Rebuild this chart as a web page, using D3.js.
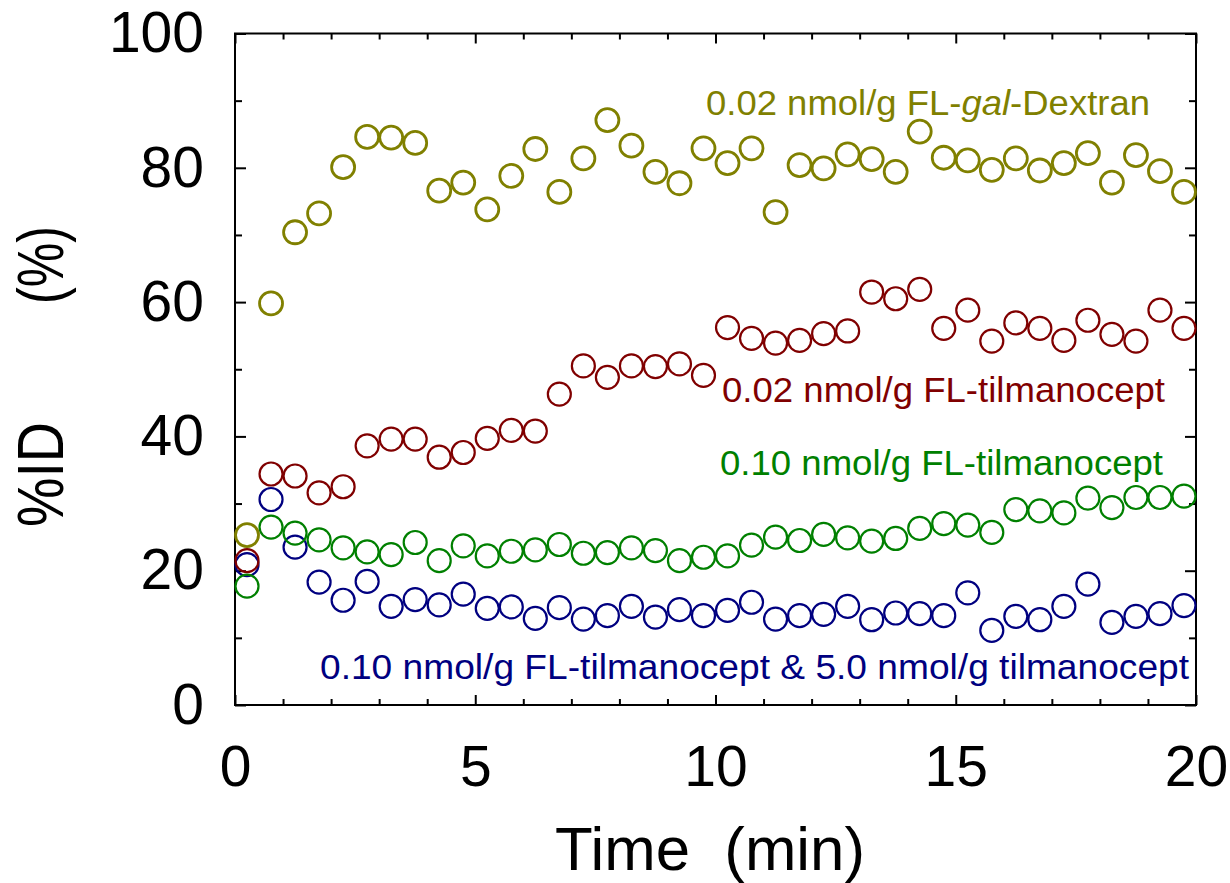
<!DOCTYPE html>
<html>
<head>
<meta charset="utf-8">
<script src="https://cdn.jsdelivr.net/npm/d3@7"></script>
<style>
  body { margin: 0; background: #fff; }
  svg { display: block; font-family: "Liberation Sans", Arial, sans-serif; }
  text { white-space: pre; }
</style>
</head>
<body>
<div id="chart"></div>
<script>
// sample times (min)
const time = [0.25, 0.75, 1.25, 1.75, 2.25, 2.75, 3.25, 3.75, 4.25, 4.75,
              5.25, 5.75, 6.25, 6.75, 7.25, 7.75, 8.25, 8.75, 9.25, 9.75,
              10.25, 10.75, 11.25, 11.75, 12.25, 12.75, 13.25, 13.75, 14.25, 14.75,
              15.25, 15.75, 16.25, 16.75, 17.25, 17.75, 18.25, 18.75, 19.25, 19.75];

// %ID per series
const galDextran = [25.3, 59.8, 70.4, 73.2, 80.1, 84.6, 84.5, 83.7, 76.6, 77.8,
                    73.8, 78.8, 82.8, 76.4, 81.4, 87.1, 83.3, 79.4, 77.7, 82.9,
                    80.7, 82.9, 73.4, 80.4, 79.9, 82.0, 81.3, 79.4, 85.4, 81.5,
                    81.1, 79.7, 81.4, 79.6, 80.7, 82.2, 77.8, 81.9, 79.5, 76.4];
const tilLow = [21.5, 34.4, 34.1, 31.6, 32.5, 38.6, 39.6, 39.6, 36.9, 37.6,
                39.7, 40.9, 40.8, 46.3, 50.5, 48.8, 50.5, 50.4, 50.8, 49.1,
                56.2, 54.6, 53.9, 54.3, 55.3, 55.7, 61.5, 60.5, 61.9, 56.1,
                58.8, 54.2, 56.9, 56.1, 54.3, 57.3, 55.2, 54.2, 58.8, 56.1];
const tilHigh = [17.7, 26.5, 25.6, 24.6, 23.4, 22.8, 22.4, 24.2, 21.5, 23.7,
                 22.2, 22.9, 23.1, 23.9, 22.6, 22.7, 23.4, 23.0, 21.5, 22.0,
                 22.2, 23.8, 25.0, 24.5, 25.4, 24.9, 24.4, 24.8, 26.3, 27.0,
                 26.8, 25.7, 29.1, 28.9, 28.6, 30.8, 29.4, 30.9, 30.9, 31.1];
const tilBlocked = [20.9, 30.6, 23.5, 18.3, 15.6, 18.4, 14.7, 15.7, 14.9, 16.5,
                    14.4, 14.6, 12.9, 14.5, 12.8, 13.3, 14.7, 13.1, 14.2, 13.3,
                    14.1, 15.3, 12.8, 13.3, 13.5, 14.7, 12.7, 13.7, 13.6, 13.3,
                    16.7, 11.1, 13.2, 12.7, 14.7, 18.0, 12.3, 13.2, 13.6, 14.8];

const xMajor = [0, 5, 10, 15, 20];
const xMinor = [1, 2, 3, 4, 6, 7, 8, 9, 11, 12, 13, 14, 16, 17, 18, 19];
const yMajor = [0, 20, 40, 60, 80, 100];
const yMinor = [10, 30, 50, 70, 90];

const width = 1230, height = 883;
const margin = {top: 33.5, right: 34, bottom: 178, left: 235};
const w = width - margin.left - margin.right;
const h = height - margin.top - margin.bottom;

const svg = d3.select("#chart").append("svg")
    .attr("width", width)
    .attr("height", height);

const g = svg.append("g")
    .attr("transform", `translate(${margin.left},${margin.top})`);

const x = d3.scaleLinear().domain([0, 20]).range([0, w]);
const y = d3.scaleLinear().domain([0, 100]).range([h, 0]);

// ticks, all pointing inward
function styleAxis(sel, showText) {
  sel.select(".domain").remove();
  sel.selectAll(".tick line").attr("stroke", "#000").attr("stroke-width", 2);
  if (!showText) sel.selectAll(".tick text").remove();
  else sel.selectAll(".tick text").attr("fill", "#000").attr("font-size", 57);
}

g.append("g").attr("transform", `translate(0,${h})`)
  .call(d3.axisBottom(x).tickValues(xMajor).tickSize(-10).tickPadding(41).tickFormat(d3.format("d")))
  .call(s => styleAxis(s, true));
g.append("g").attr("transform", `translate(0,${h})`)
  .call(d3.axisBottom(x).tickValues(xMinor).tickSize(-6))
  .call(s => styleAxis(s, false));
g.append("g")
  .call(d3.axisTop(x).tickValues(xMajor).tickSize(-10))
  .call(s => styleAxis(s, false));
g.append("g")
  .call(d3.axisTop(x).tickValues(xMinor).tickSize(-6))
  .call(s => styleAxis(s, false));

g.append("g")
  .call(d3.axisLeft(y).tickValues(yMajor).tickSize(-11).tickPadding(31).tickFormat(d3.format("d")))
  .call(s => styleAxis(s, true));
g.append("g")
  .call(d3.axisLeft(y).tickValues(yMinor).tickSize(-7))
  .call(s => styleAxis(s, false));
g.append("g").attr("transform", `translate(${w},0)`)
  .call(d3.axisRight(y).tickValues(yMajor).tickSize(-11))
  .call(s => styleAxis(s, false));
g.append("g").attr("transform", `translate(${w},0)`)
  .call(d3.axisRight(y).tickValues(yMinor).tickSize(-7))
  .call(s => styleAxis(s, false));

g.append("rect")
  .attr("width", w).attr("height", h)
  .attr("fill", "none").attr("stroke", "#000").attr("stroke-width", 2);

// series
const series = [
  {name: "blocked", vals: tilBlocked, color: "#000080", sw: 2.2},
  {name: "high", vals: tilHigh, color: "#008000", sw: 2.2},
  {name: "low", vals: tilLow, color: "#800000", sw: 2.2},
  {name: "dextran", vals: galDextran, color: "#808000", sw: 2.8}
];

series.forEach(function(s) {
  g.append("g").selectAll("circle")
    .data(s.vals)
    .enter().append("circle")
    .attr("cx", (d, i) => x(time[i]))
    .attr("cy", d => y(d))
    .attr("r", 11.5)
    .attr("fill", "none")
    .attr("stroke", s.color)
    .attr("stroke-width", s.sw);
});

// in-plot labels
const lab1 = svg.append("text")
  .attr("x", 706).attr("y", 115)
  .attr("font-size", 35).attr("fill", "#808000")
  .attr("textLength", 444).attr("lengthAdjust", "spacingAndGlyphs");
lab1.append("tspan").text("0.02 nmol/g FL-");
lab1.append("tspan").attr("font-style", "italic").text("gal");
lab1.append("tspan").text("-Dextran");

svg.append("text")
  .attr("x", 722).attr("y", 402)
  .attr("font-size", 35).attr("fill", "#800000")
  .attr("textLength", 443).attr("lengthAdjust", "spacingAndGlyphs")
  .text("0.02 nmol/g FL-tilmanocept");

svg.append("text")
  .attr("x", 720).attr("y", 475)
  .attr("font-size", 35).attr("fill", "#008000")
  .attr("textLength", 443).attr("lengthAdjust", "spacingAndGlyphs")
  .text("0.10 nmol/g FL-tilmanocept");

svg.append("text")
  .attr("x", 320).attr("y", 679)
  .attr("font-size", 35).attr("fill", "#000080")
  .attr("textLength", 869).attr("lengthAdjust", "spacingAndGlyphs")
  .text("0.10 nmol/g FL-tilmanocept & 5.0 nmol/g tilmanocept");

// axis titles
svg.append("text")
  .attr("x", 555).attr("y", 870)
  .attr("font-size", 62)
  .attr("textLength", 310).attr("lengthAdjust", "spacingAndGlyphs")
  .text("Time  (min)");

svg.append("text")
  .attr("transform", "translate(63,527) rotate(-90)")
  .attr("font-size", 64)
  .attr("textLength", 105).attr("lengthAdjust", "spacingAndGlyphs")
  .text("%ID");

svg.append("text")
  .attr("transform", "translate(63,304) rotate(-90)")
  .attr("font-size", 64)
  .attr("textLength", 78).attr("lengthAdjust", "spacingAndGlyphs")
  .text("(%)");
</script>
</body>
</html>
